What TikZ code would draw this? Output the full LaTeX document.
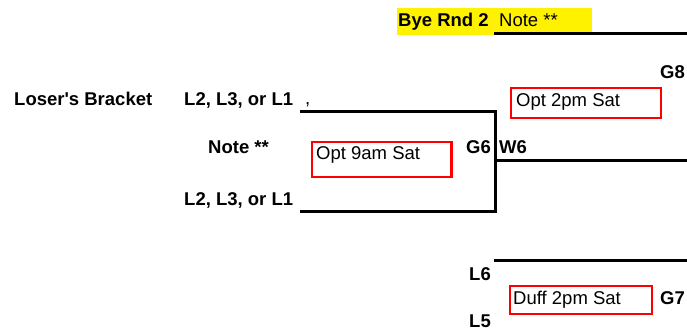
\documentclass[tikz,border=0pt]{standalone}
\usepackage{fontspec}
\setmainfont{Liberation Sans}
\newcommand\sheetfont{\fontsize{18.5}{22}\selectfont}
\tikzset{
	cell/.style={anchor=base west, inner sep=0pt, font=\sheetfont},
	bcell/.style={anchor=base west, inner sep=0pt, font=\sheetfont\bfseries},
	bracket/.style={line width=3pt},
	timebox/.style={draw=red, line width=2.3pt}
}
\begin{document}
\begin{tikzpicture}[x=1pt,y=-1pt]
			\useasboundingbox (0,0) rectangle (687,333);
			\fill[yellow] (397,8) rectangle (592,35);
			\node[bcell] (bye) at (398,26.7) {Bye Rnd 2};
			\node[cell] (byenote) at (499,26.7) {Note **};
			\node[bcell] (g8) at (660,78.3) {G8};
			
			\node[bcell] (loser) at (14,105) {Loser\textquotesingle s Bracket};
			\node[bcell] (seedA) at (184,105) {L2, L3, or L1};
			\node[cell] (comma) at (305,104) {,};
			\node[bcell] (note) at (208,153) {Note **};
			\node[bcell] (seedB) at (184,205) {L2, L3, or L1};
			\node[bcell] (g6) at (466,153.3) {G6};
			\node[bcell] (w6) at (499,153.3) {W6};
			
			\node[bcell] (l6) at (469,280) {L6};
			\node[bcell] (l5) at (469,327) {L5};
			\node[bcell] (g7) at (660,304) {G7};
			
			\draw[timebox] (511,88) rectangle (661,118);
			\node[cell] (opt2) at (516,106) {Opt 2pm Sat};
			\draw[timebox] (311.8,141.8) rectangle (451.6,176.8);
			\node[cell] (opt9) at (316,159.3) {Opt 9am Sat};
			\draw[timebox] (510,286) rectangle (652,314);
			\node[cell] (duff) at (513,304) {Duff 2pm Sat};
			
			\coordinate (byeA) at (494,33.7);
			\coordinate (byeB) at (687,33.7);
			\coordinate (inA) at (300,111);
			\coordinate (inB) at (300,211);
			\coordinate (g6top) at (495,111);
			\coordinate (g6bot) at (495,211);
			\coordinate (w6A) at (495,160.7);
			\coordinate (w6B) at (687,160.7);
			\coordinate (l6A) at (494,260.7);
			\coordinate (l6B) at (687,260.7);
			
			\draw[bracket] (byeA) -- (byeB);
			\draw[bracket] (inA) -- (g6top) -- (g6bot) -- (inB);
			\draw[bracket] (w6A) -- (w6B);
			\draw[bracket] (l6A) -- (l6B);
			\end{tikzpicture}
\end{document}
